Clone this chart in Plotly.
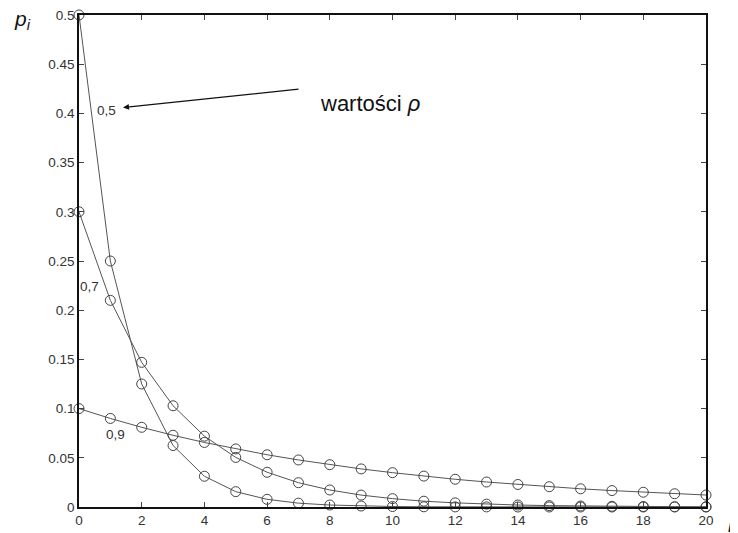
import plotly.graph_objects as go

i_vals = list(range(21))
p_rho_05 = [0.5, 0.25, 0.125, 0.0625, 0.03125, 0.0156, 0.0078, 0.0039, 0.0020, 0.0010,
            0.0005, 0.0002, 0.0001, 0.0001, 0.0, 0.0, 0.0, 0.0, 0.0, 0.0, 0.0]
p_rho_07 = [0.3, 0.21, 0.147, 0.1029, 0.072, 0.0504, 0.0353, 0.0247, 0.0173, 0.0121,
            0.0085, 0.0059, 0.0042, 0.0029, 0.0020, 0.0014, 0.0010, 0.0007, 0.0005, 0.0003, 0.0002]
p_rho_09 = [0.1, 0.09, 0.081, 0.0729, 0.0656, 0.0590, 0.0531, 0.0478, 0.0430, 0.0387,
            0.0349, 0.0314, 0.0282, 0.0254, 0.0229, 0.0206, 0.0185, 0.0167, 0.0150, 0.0135, 0.0122]
series = [("0,5", p_rho_05), ("0,7", p_rho_07), ("0,9", p_rho_09)]
x_ticks = [0, 2, 4, 6, 8, 10, 12, 14, 16, 18, 20]
y_ticks = [0, 0.05, 0.1, 0.15, 0.2, 0.25, 0.3, 0.35, 0.4, 0.45, 0.5]
y_tick_text = ["0", "0.05", "0.1", "0.15", "0.2", "0.25", "0.3", "0.35", "0.4", "0.45", "0.5"]

# page body has an 8px offset; target plot area in window pixels: x 79..706, y 15..507
OFF = 8
W, H = 738, 533
X0, X1, Y0, Y1 = 79, 706, 15, 507
L, R, T, B = X0 - OFF, W + OFF - X1, Y0 - OFF, H + OFF - Y1
PW, PH = X1 - X0, Y1 - Y0

def px(xp):
    return (xp - X0) / PW

def py(yp):
    return (Y1 - yp) / PH

fig = go.Figure()
for name, ys in series:
    fig.add_trace(go.Scatter(
        x=i_vals, y=ys, mode="lines+markers", name=name,
        line=dict(color="#555555", width=1),
        marker=dict(symbol="circle-open", size=10, color="#444444", line=dict(width=1)),
        cliponaxis=False, showlegend=False))

fam = "Liberation Sans, Arial, sans-serif"
TF = 13.5
fig.update_layout(
    width=W, height=H,
    margin=dict(l=L, r=R, t=T, b=B, autoexpand=False),
    paper_bgcolor="white", plot_bgcolor="white",
    font=dict(size=TF, family=fam, color="#333333"),
    xaxis=dict(range=[0, 20], tickvals=x_ticks, ticks="inside", ticklen=5,
               showline=True, linecolor="#111111", linewidth=1.5, mirror="ticks",
               ticklabeloverflow="allow",
               showgrid=False, zeroline=False, tickfont=dict(size=TF, color="#333333")),
    yaxis=dict(range=[0, 0.5], tickvals=y_ticks, ticktext=y_tick_text, ticks="inside", ticklen=5,
               showline=True, linecolor="#111111", linewidth=1.5, mirror="ticks",
               ticklabeloverflow="allow",
               showgrid=False, zeroline=False, tickfont=dict(size=TF, color="#333333")),
)

# series labels
fig.add_annotation(x=0.88, y=0.403, xref="x", yref="y", text="0,5", showarrow=False,
                   font=dict(size=TF, family=fam, color="#333333"))
fig.add_annotation(x=0.35, y=0.224, xref="x", yref="y", text="0,7", showarrow=False,
                   font=dict(size=TF, family=fam, color="#333333"))
fig.add_annotation(x=1.15, y=0.074, xref="x", yref="y", text="0,9", showarrow=False,
                   font=dict(size=TF, family=fam, color="#333333"))
# arrow
fig.add_annotation(x=px(123), y=py(107.5), xref="paper", yref="paper", ax=300 - 123, ay=89 - 107.5,
                   text="", showarrow=True, arrowhead=2, arrowsize=1, arrowwidth=1.2,
                   arrowcolor="#111111")
fig.add_annotation(x=px(318), y=py(89), xref="paper", yref="paper",
                   text="wartości <i>ρ</i>", showarrow=False, xanchor="left",
                   font=dict(size=22, family=fam, color="#111111"))
# axis labels
fig.add_annotation(x=px(12), y=py(5), xref="paper", yref="paper",
                   text="<i>p<sub>i</sub></i>", showarrow=False,
                   font=dict(size=21, family=fam, color="#111111"))
fig.add_annotation(x=px(735), y=py(512), xref="paper", yref="paper", yanchor="top",
                   text="<i>i</i>", showarrow=False,
                   font=dict(size=20, family=fam, color="#111111"))

fig.write_html("out.html")
